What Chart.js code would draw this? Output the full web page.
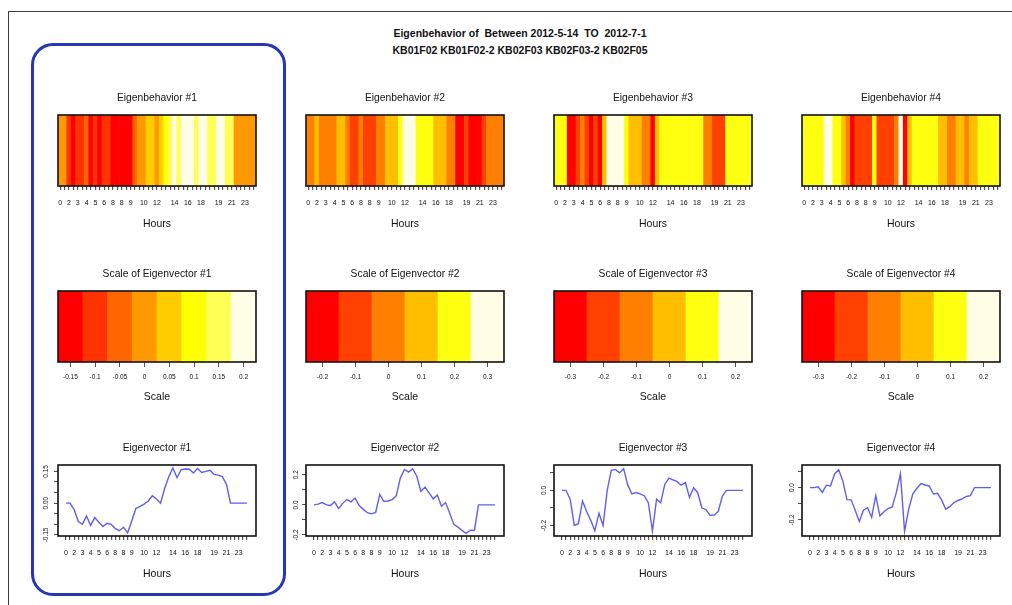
<!DOCTYPE html>
<html>
<head>
<meta charset="utf-8">
<title>Eigenbehavior</title>
<script src="https://cdn.jsdelivr.net/npm/chart.js@4.4.1/dist/chart.umd.min.js"></script>
<style>
  body { margin: 0; width: 1012px; height: 605px; overflow: hidden; position: relative; background: #fff;
         font-family: 'Liberation Sans', Arial, Helvetica, sans-serif; }
  #moldura { position: absolute; left: 8px; top: 11px; width: 1200px; height: 800px; border: 1.5px solid #3c3c3c; }
  #destaque { position: absolute; left: 31px; top: 43px; width: 255px; height: 553px; box-sizing: border-box;
              border: 3px solid #2636b4; border-radius: 22px; }
  #titulo { position: absolute; left: 0; width: 1040px; top: 25px; text-align: center; font-weight: bold;
            font-size: 10.5px; line-height: 17px; white-space: pre; color: #111; }
  .painel { position: absolute; }
</style>
</head>
<body>
<div id="moldura"></div>
<div id="destaque"></div>
<div id="titulo">Eigenbehavior of  Between 2012-5-14  TO  2012-7-1
KB01F02 KB01F02-2 KB02F03 KB02F03-2 KB02F05</div>
<script>
// hour label of each time slot (blank where R dropped the label)
const hourLabels = ['0', '', '2', '', '3', '', '4', '', '5', '', '6', '', '8', '', '8', '', '9', '', '', '10', '', '',
    '12', '', '', '', '14', '', '', '16', '', '', '18', '', '', '', '19', '', '', '21', '', '', '23', '', ''];

// eigenbehavior strips (value of each slot on the colour scale)
const behavior1 = [0, 0, -0.1, -0.15, -0.1, -0.1, -0.05, -0.15, -0.1, -0.15, -0.1, -0.1, -0.15, -0.15, -0.15, -0.15,
    -0.15, -0.05, 0, 0, 0.05, 0.05, 0, 0.05, 0.1, 0.15, 0.2, 0.15, 0.2, 0.2, 0.2, 0.15, 0.2, 0.2, 0.15, 0.15, 0.2, 0.2,
    0.15, 0.15, 0, 0, 0, 0, 0];
const behavior2 = [0, 0, 0.1, 0, 0, 0, 0, 0.1, 0.1, 0, -0.1, -0.1, 0, -0.1, -0.1, -0.1, 0, 0, 0.1, 0.1, 0.1, 0.2, 0.3,
    0.3, 0.3, 0.2, 0.2, 0.2, 0.2, 0.1, 0.1, 0.1, 0, 0, -0.2, -0.2, -0.1, -0.2, -0.2, -0.2, -0.1, 0, 0, 0, 0];
const behavior3 = [0.1, 0.1, 0.1, -0.3, -0.3, -0.2, -0.1, -0.2, -0.3, -0.2, -0.3, 0, 0.2, 0.2, 0.2, 0.2, 0.1, 0, 0, 0,
    -0.1, -0.1, -0.3, 0, 0.1, 0.1, 0.1, 0.1, 0.1, 0.1, 0.1, 0.1, 0.1, 0.1, -0.1, -0.1, -0.2, -0.2, -0.2, 0.1, 0.1, 0.1,
    0.1, 0.1, 0.1];
const behavior4 = [0.1, 0.1, 0.1, 0.1, 0.1, 0.2, 0.2, 0.1, 0.1, 0, -0.1, -0.3, -0.2, -0.2, -0.2, -0.2, 0.1, -0.2, -0.2,
    -0.2, -0.2, -0.1, 0.2, -0.3, 0, 0.1, 0.1, 0.1, 0.1, 0.1, 0.1, 0, 0, -0.1, -0.1, 0, 0, -0.1, 0, 0, 0.1, 0.1, 0.1,
    0.1, 0.1];

// eigenvectors
const vector1 = [0, 0, -0.03, -0.087, -0.1, -0.06, -0.105, -0.068, -0.09, -0.11, -0.095, -0.1, -0.12, -0.13, -0.114,
    -0.14, -0.084, -0.025, -0.015, -0.005, 0.01, 0.035, 0.02, 0, 0.07, 0.125, 0.166, 0.12, 0.158, 0.161, 0.16, 0.142,
    0.164, 0.145, 0.15, 0.155, 0.136, 0.132, 0.125, 0.09, 0, 0, 0, 0, 0];
const vector2 = [0, 0.005, 0.015, 0.002, -0.005, 0.02, -0.025, 0.01, 0.035, 0.02, 0.045, -0.005, -0.03, -0.052, -0.06,
    -0.05, 0.07, 0.022, 0.026, 0.035, 0.06, 0.178, 0.235, 0.218, 0.24, 0.19, 0.09, 0.118, 0.08, 0.04, 0.065, -0.01,
    0.015, -0.055, -0.13, -0.148, -0.17, -0.19, -0.168, -0.17, 0, 0, 0, 0, 0];
const vector3 = [0, 0, -0.05, -0.2, -0.19, -0.06, -0.12, -0.17, -0.23, -0.13, -0.2, 0, 0.115, 0.12, 0.1, 0.124, 0.03,
    -0.02, -0.012, -0.02, -0.03, -0.07, -0.232, -0.05, -0.07, 0.034, 0.07, 0.06, 0.05, 0.03, 0.045, -0.04, 0.015,
    -0.013, -0.099, -0.11, -0.142, -0.14, -0.12, -0.032, 0, 0, 0, 0, 0];
const vector4 = [0, 0, 0.005, -0.03, 0.015, 0.01, 0.085, 0.11, 0.04, -0.075, -0.076, -0.14, -0.21, -0.14, -0.125,
    -0.185, -0.05, -0.175, -0.15, -0.13, -0.12, -0.03, 0.085, -0.27, -0.134, -0.04, -0.004, 0.025, 0.016, 0.01, -0.04,
    -0.035, -0.076, -0.134, -0.118, -0.093, -0.08, -0.07, -0.055, -0.05, 0, 0, 0, 0, 0];

// y axis of each eigenvector plot
const vectorRange1 = [-0.155, 0.18];
const vectorRange2 = [-0.207, 0.265];
const vectorRange3 = [-0.26, 0.145];
const vectorRange4 = [-0.3, 0.14];
const vectorTicks1 = [-0.15, -0.1, -0.05, 0, 0.05, 0.1, 0.15];
const vectorTickLabels1 = ['-0.15', '', '', '0.00', '', '', '0.15'];
const vectorTicks2 = [-0.2, -0.1, 0, 0.1, 0.2];
const vectorTickLabels2 = ['-0.2', '', '0.0', '', '0.2'];
const vectorTicks3 = [-0.2, -0.1, 0, 0.1];
const vectorTickLabels3 = ['-0.2', '', '0.0', ''];
const vectorTicks4 = [-0.2, -0.1, 0, 0.1];
const vectorTickLabels4 = ['-0.2', '', '0.0', ''];

// colour scales (heat colours, one per bin)
const scaleValues1 = [-0.15, -0.1, -0.05, 0, 0.05, 0.1, 0.15, 0.2];
const scaleValues2 = [-0.2, -0.1, 0, 0.1, 0.2, 0.3];
const scaleValues3 = [-0.3, -0.2, -0.1, 0, 0.1, 0.2];
const scaleValues4 = [-0.3, -0.2, -0.1, 0, 0.1, 0.2];
const heatColors8 = ['#ff0000', '#ff3300', '#ff6600', '#ff9900', '#ffcc00', '#ffff00', '#ffff55', '#fffde6'];
const heatColors6 = ['#ff0000', '#ff4000', '#ff8000', '#ffbf00', '#ffff10', '#fffde6'];

const behaviors = [behavior1, behavior2, behavior3, behavior4];
const vectors = [vector1, vector2, vector3, vector4];
const vectorRanges = [vectorRange1, vectorRange2, vectorRange3, vectorRange4];
const vectorTicks = [vectorTicks1, vectorTicks2, vectorTicks3, vectorTicks4];
const vectorTickLabels = [vectorTickLabels1, vectorTickLabels2, vectorTickLabels3, vectorTickLabels4];
const scaleValues = [scaleValues1, scaleValues2, scaleValues3, scaleValues4];
const heatColors = [heatColors8, heatColors6, heatColors6, heatColors6];

Chart.defaults.font.family = "'Liberation Sans', Arial, Helvetica, sans-serif";
Chart.defaults.color = '#111';
Chart.defaults.animation = false;

const boxLefts = [58, 306, 554, 802];
const tickColor = '#555';

// black box round the plotting region, like R's box()
const framePlugin = {
    id: 'frame',
    afterDatasetsDraw(chart) {
        const a = chart.chartArea;
        const ctx = chart.ctx;
        ctx.save();
        ctx.strokeStyle = '#111';
        ctx.lineWidth = 1.6;
        ctx.strokeRect(a.left, a.top, a.right - a.left, a.bottom - a.top);
        ctx.restore();
    }
};

function heatColor(value, values, colors) {
    var step = values[1] - values[0];
    var k = Math.round((value - values[0]) / step);
    return colors[Math.max(0, Math.min(colors.length - 1, k))];
}

function makeCanvas(col, boxTop) {
    var canvas = document.createElement('canvas');
    canvas.width = 244;
    canvas.height = 151;
    canvas.className = 'painel';
    canvas.style.left = (boxLefts[col] - 32) + 'px';
    canvas.style.top = (boxTop - 30) + 'px';
    document.body.appendChild(canvas);
    return canvas;
}

function fixedWidth(scale) { scale.width = 32; }
function fixedHeight(scale) { scale.height = 50; }
function titleHeight(scale) { scale.height = 30; }

// panel title is the title of an empty axis along the top edge,
// so it is centred over the box and not over the whole canvas
function topTitle(text) {
    return {
        type: 'linear', axis: 'x', position: 'top', min: 0, max: 1,
        ticks: { display: false }, grid: { display: false }, border: { display: false },
        title: { display: true, text: text, color: '#111', font: { size: 10.3 }, padding: { top: 6.8, bottom: 0 } },
        afterFit: titleHeight
    };
}

function baseOptions(padLeft) {
    return {
        responsive: false,
        events: [],
        layout: { padding: { left: padLeft, right: 14, top: 0, bottom: 0 } },
        plugins: { legend: { display: false }, tooltip: { enabled: false } }
    };
}

function hoursTitle() {
    return { display: true, text: 'Hours', color: '#111', font: { size: 10.5 }, padding: { top: 0, bottom: 5.7 } };
}

// row 1: eigenbehavior strips
for (var k = 0; k < 4; k++) {
    var opts = baseOptions(32);
    opts.scales = {
        x: {
            type: 'category', offset: true,
            grid: { offset: false, drawOnChartArea: false, tickLength: 4, color: tickColor, lineWidth: 1.2 },
            border: { display: false },
            ticks: { autoSkip: false, maxRotation: 0, padding: 8.5, font: { size: 7 } },
            title: hoursTitle(),
            afterFit: fixedHeight
        },
        y: { display: false, min: 0, max: 1 },
        top: topTitle('Eigenbehavior #' + (k + 1))
    };
    new Chart(makeCanvas(k, 115), {
        type: 'bar',
        data: {
            labels: hourLabels,
            datasets: [{
                xAxisID: 'x', yAxisID: 'y',
                data: behaviors[k].map(() => 1),
                backgroundColor: behaviors[k].map(v => heatColor(v, scaleValues[k], heatColors[k])),
                borderWidth: 0, barPercentage: 1, categoryPercentage: 1
            }]
        },
        options: opts,
        plugins: [framePlugin]
    });
}

// row 2: colour scales
for (var k = 0; k < 4; k++) {
    var opts = baseOptions(32);
    opts.scales = {
        x: {
            type: 'category', offset: true,
            grid: { offset: false, drawOnChartArea: false, tickLength: 5, color: tickColor },
            border: { display: false },
            ticks: { autoSkip: false, maxRotation: 0, padding: 6.7, font: { size: 6.5 } },
            title: { display: true, text: 'Scale', color: '#111', font: { size: 10.5 }, padding: { top: 0, bottom: 8.7 } },
            afterFit: fixedHeight
        },
        y: { display: false, min: 0, max: 1 },
        top: topTitle('Scale of Eigenvector #' + (k + 1))
    };
    new Chart(makeCanvas(k, 291), {
        type: 'bar',
        data: {
            labels: scaleValues[k].map(String),
            datasets: [{
                xAxisID: 'x', yAxisID: 'y',
                data: scaleValues[k].map(() => 1),
                backgroundColor: heatColors[k],
                borderWidth: 0, barPercentage: 1, categoryPercentage: 1
            }]
        },
        options: opts,
        plugins: [framePlugin]
    });
}

// row 3: eigenvector curves
for (var k = 0; k < 4; k++) {
    var opts = baseOptions(0);
    const yTicks = vectorTicks[k];
    const yLabels = vectorTickLabels[k];
    opts.scales = {
        x: {
            type: 'linear', min: -1.93, max: 46.2,
            afterBuildTicks: function (scale) { scale.ticks = hourLabels.map((l, i) => ({ value: i })); },
            grid: { drawOnChartArea: false, tickLength: 4, color: tickColor, lineWidth: 1.2 },
            border: { display: false },
            ticks: { autoSkip: false, maxRotation: 0, padding: 8.5, font: { size: 7 },
                     callback: function (value) { return hourLabels[value]; } },
            title: hoursTitle(),
            afterFit: fixedHeight
        },
        y: {
            type: 'linear', min: vectorRanges[k][0], max: vectorRanges[k][1],
            afterBuildTicks: function (scale) { scale.ticks = yTicks.map(v => ({ value: v })); },
            grid: { drawOnChartArea: false, tickLength: 4, color: tickColor },
            border: { display: false },
            ticks: { autoSkip: false, minRotation: 90, maxRotation: 90, crossAlign: 'center', padding: 0,
                     font: { size: 6.5 }, callback: function (value, index) { return yLabels[index]; } },
            afterFit: fixedWidth
        },
        top: topTitle('Eigenvector #' + (k + 1))
    };
    new Chart(makeCanvas(k, 465), {
        type: 'line',
        data: {
            datasets: [{
                xAxisID: 'x', yAxisID: 'y',
                data: vectors[k].map((v, i) => ({ x: i, y: v })),
                borderColor: 'rgb(95, 95, 240)', borderWidth: 1.4, pointRadius: 0, fill: false, tension: 0
            }]
        },
        options: opts,
        plugins: [framePlugin]
    });
}
</script>
</body>
</html>
